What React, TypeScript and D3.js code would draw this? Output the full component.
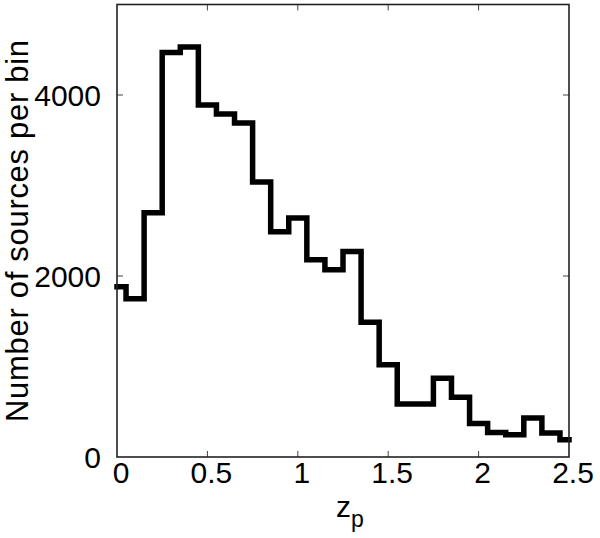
import { useEffect, useRef } from "react";
import * as d3 from "d3";

// photometric redshift bin centres and counts per bin
const zBins = [0, 0.1, 0.2, 0.3, 0.4, 0.5, 0.6, 0.7, 0.8, 0.9, 1.0, 1.1, 1.2,
  1.3, 1.4, 1.5, 1.6, 1.7, 1.8, 1.9, 2.0, 2.1, 2.2, 2.3, 2.4, 2.5];
const counts = [1880, 1750, 2700, 4470, 4530, 3890, 3790, 3690, 3040, 2490, 2640,
  2180, 2070, 2270, 1490, 1020, 585, 585, 870, 660, 370, 270, 245, 430, 265, 190];
const xTicks = [0, 0.5, 1, 1.5, 2, 2.5];
const yTicks = [0, 2000, 4000];

const W = 600, H = 538;
const FONT = "'Liberation Sans', Arial, Helvetica, sans-serif";

export default function App() {
  const svgRef = useRef<SVGSVGElement>(null);

  useEffect(() => {
    const margin = { top: 4.5, right: 31, bottom: 81, left: 117 };
    const wt = W - margin.left - margin.right;
    const ht = H - margin.top - margin.bottom;

    d3.select(svgRef.current).selectAll("*").remove();
    const svg = d3.select(svgRef.current)
      .append("g")
      .attr("transform", `translate(${margin.left},${margin.top})`);

    const x = d3.scaleLinear().domain([0, 2.5]).range([0, wt]);
    const y = d3.scaleLinear().domain([0, 5000]).range([ht, 0]);

    // histogram outline, steps half way between bin centres
    const line = d3.line<number>()
      .x((_, i) => x(zBins[i]))
      .y(d => y(d))
      .curve(d3.curveStep);

    svg.append("path")
      .datum(counts)
      .attr("d", line)
      .attr("fill", "none")
      .attr("stroke", "#000")
      .attr("stroke-width", 5.5)
      .attr("stroke-linejoin", "miter")
      .attr("stroke-linecap", "square");

    // inward ticks on all four sides
    const tickLen = 6;
    const inner = xTicks.slice(1, -1);
    svg.selectAll(".xtb").data(inner).join("line")
      .attr("x1", d => x(d)).attr("x2", d => x(d))
      .attr("y1", ht).attr("y2", ht - tickLen)
      .attr("stroke", "#444").attr("stroke-width", 1);
    svg.selectAll(".xtt").data(inner).join("line")
      .attr("x1", d => x(d)).attr("x2", d => x(d))
      .attr("y1", 0).attr("y2", tickLen)
      .attr("stroke", "#444").attr("stroke-width", 1);
    const yInner = yTicks.slice(1);
    svg.selectAll(".ytl").data(yInner).join("line")
      .attr("x1", 0).attr("x2", tickLen)
      .attr("y1", d => y(d)).attr("y2", d => y(d))
      .attr("stroke", "#444").attr("stroke-width", 1);
    svg.selectAll(".ytr").data(yInner).join("line")
      .attr("x1", wt).attr("x2", wt - tickLen)
      .attr("y1", d => y(d)).attr("y2", d => y(d))
      .attr("stroke", "#444").attr("stroke-width", 1);

    // frame
    svg.append("rect")
      .attr("x", 0).attr("y", 0)
      .attr("width", wt).attr("height", ht)
      .attr("fill", "none")
      .attr("stroke", "#222")
      .attr("stroke-width", 1.6);

    // tick labels
    svg.selectAll(".xl").data(xTicks).join("text")
      .attr("x", d => x(d) + 4)
      .attr("y", ht + 26)
      .attr("text-anchor", "middle")
      .style("font-family", FONT)
      .style("font-size", "30px")
      .text(d => String(d));

    svg.selectAll(".yl").data(yTicks).join("text")
      .attr("x", -16)
      .attr("y", d => y(d) + 11)
      .attr("text-anchor", "end")
      .style("font-family", FONT)
      .style("font-size", "30px")
      .text(d => String(d));

    // x-axis label
    const xl = svg.append("text")
      .attr("x", wt / 2 + 7)
      .attr("y", ht + 60)
      .attr("text-anchor", "middle")
      .style("font-family", FONT)
      .style("font-size", "30px");
    xl.append("tspan").text("z");
    xl.append("tspan")
      .attr("dy", 10)
      .style("font-size", "23px")
      .text("p");

    // y-axis label
    svg.append("text")
      .attr("text-anchor", "middle")
      .attr("transform", "rotate(-90)")
      .attr("x", -(231 - margin.top))
      .attr("y", -margin.left + 28)
      .style("font-family", FONT)
      .style("font-size", "31px")
      .attr("textLength", 382)
      .attr("lengthAdjust", "spacing")
      .text("Number of sources per bin");
  }, []);

  return (
    <svg ref={svgRef} width={W} height={H}
      style={{ position: "absolute", left: 0, top: 0, background: "#fff" }} />
  );
}
